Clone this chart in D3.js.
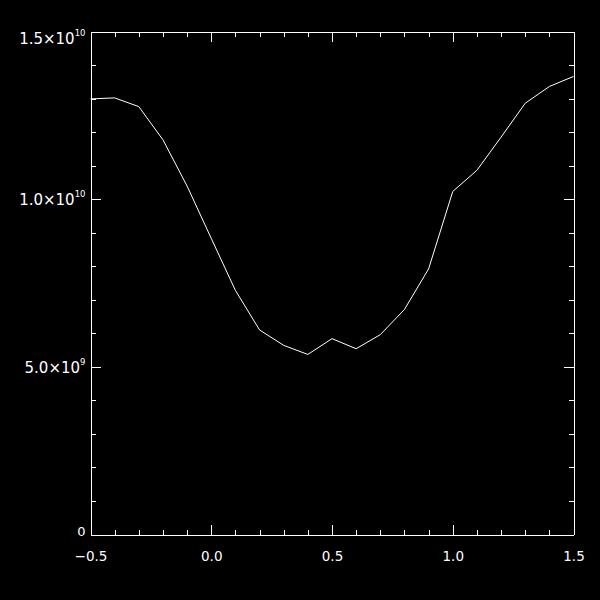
<!DOCTYPE html>
<html>
<head>
<meta charset="utf-8">
<script src="https://cdn.jsdelivr.net/npm/d3@7"></script>
<style>
  html, body { margin: 0; padding: 0; background: #000; }
  svg { display: block; background: #000; }
  text { font-family: "DejaVu Sans", sans-serif; fill: #fff; }
</style>
</head>
<body>
<svg id="chart" width="600" height="600"></svg>
<script>
// ---- data ----
const xValues = [-0.5, -0.4, -0.3, -0.2, -0.1, 0.0, 0.1, 0.2, 0.3, 0.4, 0.5,
                 0.6, 0.7, 0.8, 0.9, 1.0, 1.1, 1.2, 1.3, 1.4, 1.5];
const yValues = [1.299e10, 1.302e10, 1.276e10, 1.177e10, 1.039e10, 8.83e9, 7.28e9,
                 6.10e9, 5.64e9, 5.37e9, 5.84e9, 5.54e9, 5.96e9, 6.71e9, 7.92e9,
                 1.023e10, 1.086e10, 1.185e10, 1.286e10, 1.336e10, 1.366e10];
const xTickValues = [-0.5, 0.0, 0.5, 1.0, 1.5];
const xTickLabels = ["\u22120.5", "0.0", "0.5", "1.0", "1.5"];
const xMinorValues = d3.range(-5, 16).map(i => i / 10);
const yTickValues = [0, 5e9, 1e10, 1.5e10];
const yTickMantissas = ["0", "5.0\u00d710", "1.0\u00d710", "1.5\u00d710"];
const yTickExponents = ["", "9", "10", "10"];
const yMinorValues = d3.range(0, 16).map(i => i * 1e9);

// ---- layout ----
const plotLeft = 90, plotRight = 573, plotTop = 31, plotBottom = 534;
const majorLen = 10, minorLen = 5;

const svg = d3.select("#chart");
const g = svg.append("g").attr("transform", "translate(0.5,0.5)");

const x = d3.scaleLinear().domain([-0.5, 1.5]).range([plotLeft, plotRight]);
const y = d3.scaleLinear().domain([0, 1.5e10]).range([plotBottom, plotTop]);

function styleAxis(sel) {
  sel.selectAll("path.domain").attr("stroke", "#fff").attr("stroke-width", 1)
     .attr("shape-rendering", "crispEdges");
  sel.selectAll(".tick line").attr("stroke", "#fff").attr("stroke-width", 1)
     .attr("shape-rendering", "crispEdges");
  sel.selectAll(".tick text").remove();
}

// Bottom axis (major + minor)
const bottomMinor = g.append("g").attr("transform", `translate(0,${plotBottom})`)
  .call(d3.axisBottom(x).tickValues(xMinorValues).tickSize(-minorLen).tickSizeOuter(0).tickFormat(""));
styleAxis(bottomMinor);
const bottomMajor = g.append("g").attr("transform", `translate(0,${plotBottom})`)
  .call(d3.axisBottom(x).tickValues(xTickValues).tickSize(-majorLen).tickSizeOuter(0).tickFormat(""));
styleAxis(bottomMajor);
bottomMajor.selectAll(".tick").append("text")
  .attr("x", 0).attr("y", 26)
  .attr("text-anchor", "middle")
  .attr("font-size", "13.5px")
  .attr("fill", "#fff")
  .text((d, i) => xTickLabels[i]);

// Top axis
const topMinor = g.append("g").attr("transform", `translate(0,${plotTop})`)
  .call(d3.axisTop(x).tickValues(xMinorValues).tickSize(-minorLen).tickSizeOuter(0).tickFormat(""));
styleAxis(topMinor);
const topMajor = g.append("g").attr("transform", `translate(0,${plotTop})`)
  .call(d3.axisTop(x).tickValues(xTickValues).tickSize(-majorLen).tickSizeOuter(0).tickFormat(""));
styleAxis(topMajor);

// Left axis
const leftMinor = g.append("g").attr("transform", `translate(${plotLeft},0)`)
  .call(d3.axisLeft(y).tickValues(yMinorValues).tickSize(-minorLen).tickSizeOuter(0).tickFormat(""));
styleAxis(leftMinor);
const leftMajor = g.append("g").attr("transform", `translate(${plotLeft},0)`)
  .call(d3.axisLeft(y).tickValues(yTickValues).tickSize(-majorLen).tickSizeOuter(0).tickFormat(""));
styleAxis(leftMajor);

leftMajor.selectAll(".tick").each(function (d, i) {
  const hasExp = yTickExponents[i] !== "";
  const capH = hasExp ? 11 : 9.5;
  const ty = y(d);
  // baseline: centre on tick, but keep label inside the plot's vertical extent
  let base = ty + capH / 2;
  base = Math.max(base, plotTop + capH + 1);
  base = Math.min(base, plotBottom + 1);
  const t = d3.select(this).append("text")
    .attr("x", -5)
    .attr("y", base - ty)
    .attr("text-anchor", "end")
    .attr("fill", "#fff")
    .attr("font-size", hasExp ? "15px" : "13px");
  t.append("tspan").text(yTickMantissas[i]);
  if (hasExp) {
    t.append("tspan").attr("font-size", "8.5px").attr("dy", -8).text(yTickExponents[i]);
  }
});

// Right axis
const rightMinor = g.append("g").attr("transform", `translate(${plotRight},0)`)
  .call(d3.axisRight(y).tickValues(yMinorValues).tickSize(-minorLen).tickSizeOuter(0).tickFormat(""));
styleAxis(rightMinor);
const rightMajor = g.append("g").attr("transform", `translate(${plotRight},0)`)
  .call(d3.axisRight(y).tickValues(yTickValues).tickSize(-majorLen).tickSizeOuter(0).tickFormat(""));
styleAxis(rightMajor);

// Data line
const line = d3.line()
  .x((d, i) => x(xValues[i]))
  .y(d => y(d));

g.append("path")
  .datum(yValues)
  .attr("d", line)
  .attr("fill", "none")
  .attr("stroke", "#fff")
  .attr("stroke-width", 1);
</script>
</body>
</html>
